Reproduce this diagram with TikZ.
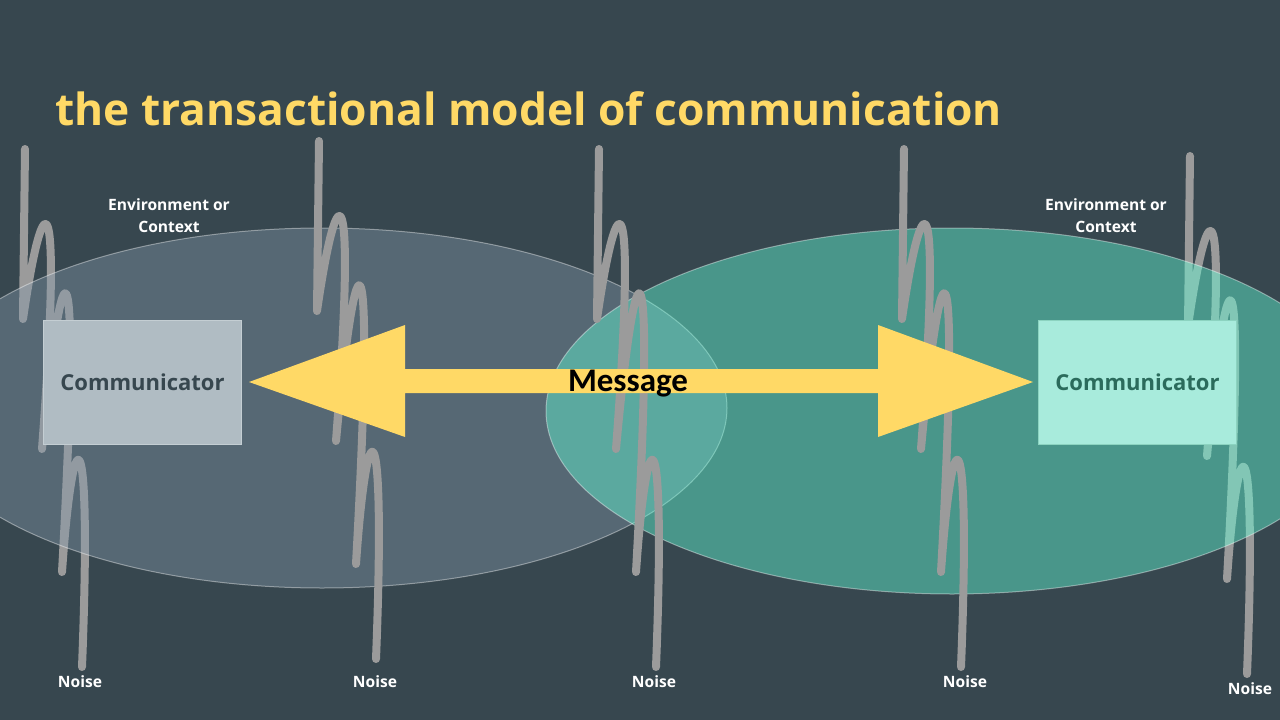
\documentclass[tikz,border=0pt]{standalone}
\usepackage{fontspec}
\setmainfont{Open Sans}
\newfontfamily\msgfont{Carlito}
\definecolor{bgc}{HTML}{37474F}
\definecolor{titlec}{HTML}{FFD966}
\definecolor{leftell}{RGB}{133,154,172}
\definecolor{rightell}{RGB}{99,255,216}
\definecolor{noisec}{HTML}{9B9B9B}
\definecolor{lboxc}{HTML}{B0BCC3}
\definecolor{lboxd}{HTML}{C4CED3}
\definecolor{ltextc}{HTML}{37474F}
\definecolor{rboxc}{HTML}{A8EBDC}
\definecolor{rboxd}{HTML}{8CD3C0}
\definecolor{rtextc}{HTML}{2B6B5C}
\tikzset{
  noiseline/.style={draw=noisec, line width=8pt, line cap=round, line join=round},
  pics/noise/.style={code={
    \draw[noiseline] (0,0) -- (-2,170)
      .. controls (18.7,26.7) and (37.7,26.7) .. (17,300)
      .. controls (37.5,75.2) and (56.5,75.2) .. (37,423)
      .. controls (48.2,260.2) and (67.2,260.2) .. (57,518);
  }},
  commbox/.style={minimum width=198pt, minimum height=124pt, inner sep=0pt, line width=1pt, font=\fontsize{22}{26}\selectfont\bfseries},
  lbox/.style={commbox, fill=lboxc, draw=lboxd, text=ltextc},
  rbox/.style={commbox, fill=rboxc, draw=rboxd, text=rtextc},
  smalllabel/.style={text=white, font=\fontsize{15.6}{22}\selectfont\bfseries, align=center, inner sep=0pt},
  arrowshape/.style={fill=titlec},
}
\begin{document}
\begin{tikzpicture}[x=1pt,y=-1pt]
\useasboundingbox (0,0) rectangle (1280,720);
\fill[bgc] (0,0) rectangle (1280,720);
\clip (0,0) rectangle (1280,720);

% noise behind the ellipses
\pic (n1) at (25,149) {noise};
\pic (n5) at (1190,156) {noise};

% environment ellipses
\fill[leftell, fill opacity=0.4] (322,408) ellipse [x radius=405pt, y radius=180pt];
\draw[white, draw opacity=0.4, line width=1pt] (322,408) ellipse [x radius=405pt, y radius=180pt];
\fill[rightell, fill opacity=0.43] (952,411) ellipse [x radius=406pt, y radius=183pt];
\draw[white, draw opacity=0.4, line width=1pt] (952,411) ellipse [x radius=406pt, y radius=183pt];

% communicators
\node[lbox] (c1) at (142.5,382) {Communicator};
\node[rbox] (c2) at (1137.5,382) {Communicator};

% noise on top of the ellipses
\pic (n2) at (319,141) {noise};
\pic (n3) at (599,149) {noise};
\pic (n4) at (904,149) {noise};

% message arrow
\coordinate (tipL) at ([xshift=7pt]c1.east);
\coordinate (tipR) at ([xshift=-5pt]c2.west);
\fill[arrowshape] (tipL) -- (405,325) -- (405,369) -- (878,369) -- (878,325)
  -- (tipR) -- (878,437) -- (878,393) -- (405,393) -- (405,437) -- cycle;
\node[anchor=base, inner sep=0pt, font=\msgfont\fontsize{33}{34}\selectfont\bfseries] (msg) at (628,391) {Message};

% title
\node[anchor=base west, inner sep=0pt, text=titlec, font=\fontsize{44.3}{50}\selectfont\bfseries] (title) at (55,125) {the transactional model of communication};

% labels
\node[smalllabel] (env1) at (169,216) {Environment or\\Context};
\node[smalllabel] (env2) at (1106,216) {Environment or\\Context};
\node[smalllabel] (nl1) at (80,682) {Noise};
\node[smalllabel] (nl2) at (375,682) {Noise};
\node[smalllabel] (nl3) at (654,682) {Noise};
\node[smalllabel] (nl4) at (965,682) {Noise};
\node[smalllabel] (nl5) at (1250,689) {Noise};
\end{tikzpicture}
\end{document}
